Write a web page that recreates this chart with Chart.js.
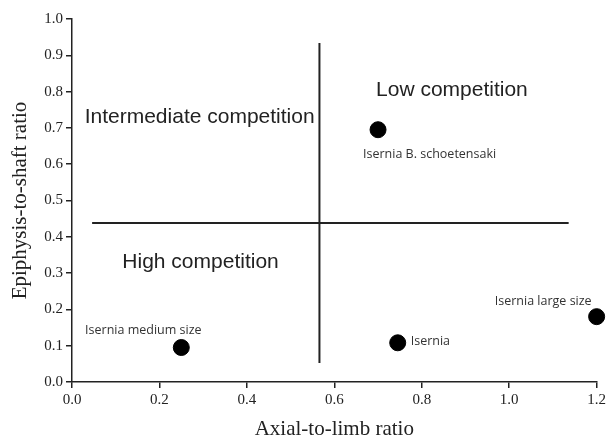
<!DOCTYPE html>
<html>
<head>
<meta charset="utf-8">
<script src="https://cdn.jsdelivr.net/npm/chart.js@4"></script>
<style>
  html, body { margin: 0; padding: 0; background: #fff; }
  #wrap { width: 609px; height: 439px; }
</style>
</head>
<body>
<div id="wrap"><canvas id="chart" width="609" height="439"></canvas></div>
<script>
// site names and their ratios
const sites = ['Isernia B. schoetensaki', 'Isernia medium size', 'Isernia', 'Isernia large size'];
const axialToLimb = [0.70, 0.25, 0.745, 1.2];
const epiphysisToShaft = [0.695, 0.095, 0.108, 0.18];

// quadrant dividers
const vLineX = [0.566, 0.566];
const vLineY = [0.052, 0.934];
const hLineX = [0.046, 1.136];
const hLineY = [0.438, 0.438];

// quadrant labels (data coordinates of their centres)
const regionNames = ['Low competition', 'Intermediate competition', 'High competition'];
const regionX = [0.869, 0.292, 0.294];
const regionY = [0.804, 0.730, 0.331];

const xTicks = [0.0, 0.2, 0.4, 0.6, 0.8, 1.0, 1.2];
const yTicks = [0.0, 0.1, 0.2, 0.3, 0.4, 0.5, 0.6, 0.7, 0.8, 0.9, 1.0];

const points = sites.map((s, i) => ({ x: axialToLimb[i], y: epiphysisToShaft[i] }));

// where each site label sits relative to its dot
const labelPlace = [
    { dx: -15, dy: 25, align: 'left' },
    { dx: -38, dy: -17, align: 'center' },
    { dx: 13, dy: -1, align: 'left' },
    { dx: -5, dy: -15, align: 'right' }
];

const textPlugin = {
    id: 'texts',
    afterDatasetsDraw(chart) {
        const ctx = chart.ctx;
        const xs = chart.scales.x, ys = chart.scales.y;
        ctx.save();
        ctx.textBaseline = 'middle';

        ctx.fillStyle = '#222';
        ctx.font = '21px "Liberation Sans", Arial, sans-serif';
        ctx.textAlign = 'center';
        regionNames.forEach((name, i) => {
            ctx.fillText(name, xs.getPixelForValue(regionX[i]), ys.getPixelForValue(regionY[i]));
        });

        ctx.fillStyle = '#333';
        ctx.font = '12.5px "Open Sans", sans-serif';
        sites.forEach((name, i) => {
            const p = labelPlace[i];
            ctx.textAlign = p.align;
            ctx.fillText(name, xs.getPixelForValue(axialToLimb[i]) + p.dx, ys.getPixelForValue(epiphysisToShaft[i]) + p.dy);
        });
        ctx.restore();
    }
};

const serif = '"Liberation Serif", "Times New Roman", serif';

new Chart(document.getElementById('chart'), {
    type: 'scatter',
    data: {
        datasets: [
            {
                type: 'line',
                data: vLineX.map((x, i) => ({ x: x, y: vLineY[i] })),
                borderColor: '#222',
                borderWidth: 2,
                pointRadius: 0
            },
            {
                type: 'line',
                data: hLineX.map((x, i) => ({ x: x, y: hLineY[i] })),
                borderColor: '#222',
                borderWidth: 2,
                pointRadius: 0
            },
            {
                data: points,
                backgroundColor: '#000',
                borderColor: '#000',
                pointRadius: 8,
                clip: false
            }
        ]
    },
    options: {
        responsive: false,
        animation: false,
        layout: { padding: { left: 0, right: 11, top: 19, bottom: 0 } },
        plugins: { legend: { display: false }, tooltip: { enabled: false } },
        scales: {
            x: {
                type: 'linear',
                min: 0, max: 1.2,
                afterBuildTicks: s => { s.ticks = xTicks.map(v => ({ value: v })); },
                afterFit: s => { s.height = 57; },
                border: { color: '#222', width: 1.5 },
                grid: { drawOnChartArea: false, drawTicks: true, tickLength: 6, color: '#222', lineWidth: 1.5 },
                ticks: {
                    color: '#222',
                    padding: 3,
                    font: { family: serif, size: 15 },
                    callback: v => v.toFixed(1)
                },
                title: {
                    display: true,
                    text: 'Axial-to-limb ratio',
                    color: '#222',
                    font: { family: serif, size: 21 },
                    padding: { top: 0, bottom: -3 }
                }
            },
            y: {
                type: 'linear',
                min: 0, max: 1.0,
                afterBuildTicks: s => { s.ticks = yTicks.map(v => ({ value: v })); },
                afterFit: s => { s.width = 72; },
                border: { color: '#222', width: 1.5 },
                grid: { drawOnChartArea: false, drawTicks: true, tickLength: 6, color: '#222', lineWidth: 1.5 },
                ticks: {
                    color: '#222',
                    padding: 3,
                    font: { family: serif, size: 15 },
                    callback: v => v.toFixed(1)
                },
                title: {
                    display: true,
                    text: 'Epiphysis-to-shaft ratio',
                    color: '#222',
                    font: { family: serif, size: 21 },
                    padding: { top: 8, bottom: 0 }
                }
            }
        }
    },
    plugins: [textPlugin]
});
</script>
</body>
</html>
